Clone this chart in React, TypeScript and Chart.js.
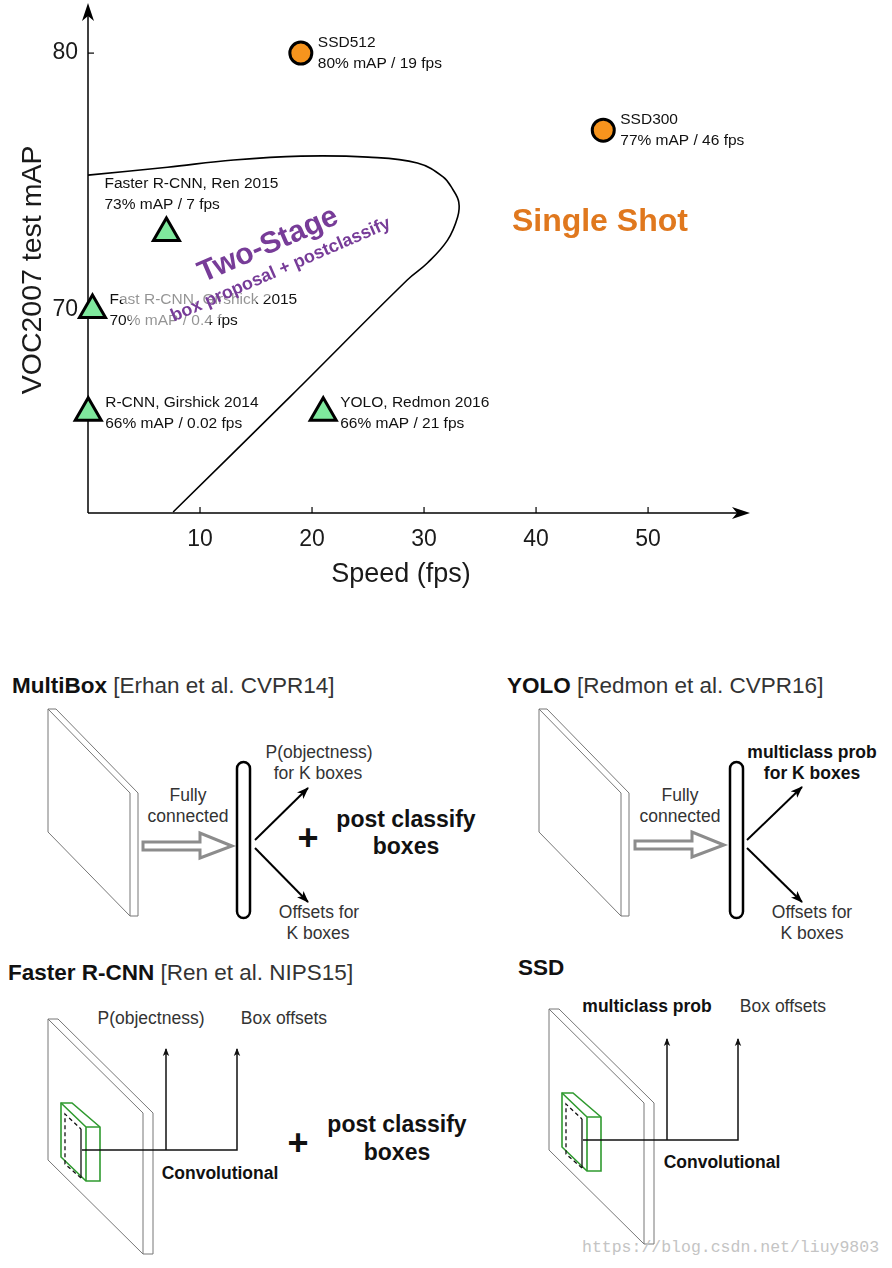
import React, { useEffect, useRef } from 'react';
import { Chart, registerables } from 'chart.js';

Chart.register(...registerables);

const F = '"Liberation Sans", Arial, Helvetica, sans-serif';

// ---- data ----
const ssdNames = ['SSD512', 'SSD300'];
const ssdFps = [19, 46];
const ssdMap = [80, 77];

const otherNames = ['Faster R-CNN, Ren 2015', 'Fast R-CNN, Girshick 2015', 'R-CNN, Girshick 2014', 'YOLO, Redmon 2016'];
const otherFps = [7, 0.4, 0.02, 21];
const otherMap = [73, 70, 66, 66];
const otherLabelSide = ['above', 'right', 'right', 'right'];

// boundary between two-stage and single-shot regions
const boundaryFps = [0, 7.1, 13.0, 19.0, 25.0, 29.4, 31.7, 32.6, 33.1, 33.0, 32.1, 30.3, 28.5, 18.1, 7.6];
const boundaryMap = [75.25, 75.56, 75.84, 75.99, 75.95, 75.72, 75.18, 74.67, 74.2, 73.62, 72.72, 71.83, 71.17, 66.65, 62.14];

const xTicks = [10, 20, 30, 40, 50];
const yTicks = [70, 80];

const decorPlugin = {
  id: 'decor',
  beforeDatasetsDraw(chart: any) {
    const { ctx, chartArea: ca, scales } = chart;
    const xs = scales.x;
    const ys = scales.y;
    const ax = xs.getPixelForValue(0);
    const ay = ca.bottom;
    ctx.save();
    ctx.strokeStyle = '#000';
    ctx.fillStyle = '#000';
    ctx.lineWidth = 1.5;
    ctx.beginPath();
    ctx.moveTo(ax, ay);
    ctx.lineTo(ca.right - 10, ay);
    ctx.stroke();
    ctx.beginPath();
    ctx.moveTo(ca.right, ay);
    ctx.lineTo(ca.right - 18, ay - 6);
    ctx.lineTo(ca.right - 13, ay);
    ctx.lineTo(ca.right - 18, ay + 6);
    ctx.closePath();
    ctx.fill();
    ctx.beginPath();
    ctx.moveTo(ax, ay);
    ctx.lineTo(ax, ca.top + 10);
    ctx.stroke();
    ctx.beginPath();
    ctx.moveTo(ax, ca.top);
    ctx.lineTo(ax - 6, ca.top + 18);
    ctx.lineTo(ax, ca.top + 13);
    ctx.lineTo(ax + 6, ca.top + 18);
    ctx.closePath();
    ctx.fill();
    ctx.lineWidth = 1.2;
    xTicks.forEach((v) => {
      const px = xs.getPixelForValue(v);
      ctx.beginPath();
      ctx.moveTo(px, ay);
      ctx.lineTo(px, ay - 6);
      ctx.stroke();
    });
    yTicks.forEach((v) => {
      const py = ys.getPixelForValue(v);
      ctx.beginPath();
      ctx.moveTo(ax, py);
      ctx.lineTo(ax + 6, py);
      ctx.stroke();
    });
    // axis titles
    ctx.fillStyle = '#1a1a1a';
    ctx.font = `27px ${F}`;
    ctx.textAlign = 'center';
    ctx.textBaseline = 'middle';
    ctx.fillText('Speed (fps)', ax + 313, ay + 62);
    ctx.save();
    ctx.translate(ax - 55, ys.getPixelForValue(71.56));
    ctx.rotate(-Math.PI / 2);
    ctx.font = `28.5px ${F}`;
    ctx.fillText('VOC2007 test mAP', 0, 0);
    ctx.restore();
    ctx.restore();
  },
  afterDatasetsDraw(chart: any) {
    const { ctx, scales } = chart;
    const xs = scales.x;
    const ys = scales.y;
    ctx.save();
    ctx.font = `15.5px ${F}`;
    ctx.fillStyle = '#111';
    ctx.textAlign = 'left';
    ctx.textBaseline = 'middle';
    const label = (name: string, fps: number, map: number, side: string) => {
      const px = xs.getPixelForValue(fps);
      const py = ys.getPixelForValue(map);
      const l2 = `${map}% mAP / ${fps} fps`;
      if (side === 'above') {
        ctx.fillText(name, px - 62, py - 49);
        ctx.fillText(l2, px - 62, py - 28);
      } else {
        ctx.fillText(name, px + 17, py - 10);
        ctx.fillText(l2, px + 17, py + 11);
      }
    };
    ssdNames.forEach((n, i) => label(n, ssdFps[i], ssdMap[i], 'right'));
    otherNames.forEach((n, i) => label(n, otherFps[i], otherMap[i], otherLabelSide[i]));

    const ang = (-23.5 * Math.PI) / 180;
    // translucent backdrop of the two-stage caption
    ctx.save();
    ctx.translate(xs.getPixelForValue(17.2), ys.getPixelForValue(71.56));
    ctx.rotate(ang);
    ctx.fillStyle = 'rgba(255,255,255,0.55)';
    ctx.fillRect(-158, -45, 288, 65);
    ctx.restore();

    ctx.fillStyle = '#773C98';
    ctx.textAlign = 'center';
    ctx.save();
    ctx.translate(xs.getPixelForValue(16.1), ys.getPixelForValue(72.53));
    ctx.rotate(ang);
    ctx.font = `bold 30px ${F}`;
    ctx.fillText('Two-Stage', 0, 0);
    ctx.restore();
    ctx.save();
    ctx.translate(xs.getPixelForValue(17.2), ys.getPixelForValue(71.56));
    ctx.rotate(ang);
    ctx.font = `bold 18px ${F}`;
    ctx.fillText('box proposal + postclassify', 0, 0);
    ctx.restore();

    ctx.fillStyle = '#E0781E';
    ctx.font = `bold 32px ${F}`;
    ctx.fillText('Single Shot', xs.getPixelForValue(45.7), ys.getPixelForValue(73.42));
    ctx.restore();
  },
};

const noPad = (s: any) => {
  s.paddingTop = 0;
  s.paddingBottom = 0;
  s.paddingLeft = 0;
  s.paddingRight = 0;
};

function TopChart() {
  const ref = useRef<HTMLCanvasElement>(null);
  useEffect(() => {
    if (!ref.current) return;
    Chart.defaults.font.family = F;
    const chart = new Chart(ref.current, {
      type: 'scatter',
      data: {
        datasets: [
          {
            label: 'SSD',
            data: ssdFps.map((v, i) => ({ x: v, y: ssdMap[i] })),
            pointStyle: 'circle',
            pointRadius: 11,
            pointBackgroundColor: '#F7941D',
            pointBorderColor: '#000',
            pointBorderWidth: 3,
            clip: false,
            order: 1,
          } as any,
          {
            label: 'Other detectors',
            data: otherFps.map((v, i) => ({ x: v, y: otherMap[i] })),
            pointStyle: 'triangle',
            pointRadius: 15,
            pointBackgroundColor: '#7FE89D',
            pointBorderColor: '#000',
            pointBorderWidth: 3,
            clip: false,
            order: 2,
          } as any,
          {
            label: 'Boundary',
            data: boundaryFps.map((v, i) => ({ x: v, y: boundaryMap[i] })),
            showLine: true,
            tension: 0.4,
            borderColor: '#000',
            borderWidth: 1.6,
            pointRadius: 0,
            fill: false,
            clip: false,
            order: 3,
          } as any,
        ],
      },
      options: {
        responsive: false,
        devicePixelRatio: 1,
        animation: false,
        layout: { autoPadding: false, padding: { left: 0, right: 142, top: 3, bottom: 0 } },
        plugins: { legend: { display: false }, tooltip: { enabled: false }, title: { display: false } },
        scales: {
          x: {
            type: 'linear',
            min: 0,
            max: 59.1,
            grid: { display: false, drawTicks: false },
            border: { display: false },
            afterFit: (s: any) => {
              s.height = 87;
              noPad(s);
            },
            afterBuildTicks: (s: any) => {
              s.ticks = xTicks.map((v) => ({ value: v }));
            },
            ticks: {
              font: { size: 23, family: F },
              color: '#1a1a1a',
              padding: 13,
              maxRotation: 0,
              autoSkip: false,
            },
          },
          y: {
            type: 'linear',
            min: 62.1,
            max: 81.95,
            grid: { display: false, drawTicks: false },
            border: { display: false },
            afterFit: (s: any) => {
              s.width = 88;
              noPad(s);
            },
            afterBuildTicks: (s: any) => {
              s.ticks = yTicks.map((v) => ({ value: v }));
            },
            ticks: {
              font: { size: 23, family: F },
              color: '#1a1a1a',
              padding: 10,
            },
          },
        },
      } as any,
      plugins: [decorPlugin],
    });
    return () => chart.destroy();
  }, []);
  return <canvas ref={ref} width={892} height={600} style={{ display: 'block', width: 892, height: 600 }} />;
}

function slab(x: number, y: number, dx: number, dy: number, h: number, d: number) {
  return (
    <g fill="none" stroke="#777" strokeWidth={1}>
      <path
        d={`M${x},${y} L${x + d},${y} L${x + dx + d},${y + dy} L${x + dx + d},${y + dy + h} L${x + dx},${y + dy + h} L${x},${y + h} Z`}
        fill="#fff"
      />
      <path d={`M${x},${y} L${x + dx},${y + dy} L${x + dx},${y + dy + h}`} />
    </g>
  );
}

function hollowArrow(x0: number, yc: number) {
  return (
    <polygon
      points={`${x0},${yc - 4} ${x0 + 57},${yc - 4} ${x0 + 57},${yc - 13} ${x0 + 89},${yc} ${x0 + 57},${yc + 12} ${x0 + 57},${yc + 4} ${x0},${yc + 4}`}
      fill="#fff"
      stroke="#8c8c8c"
      strokeWidth={3}
      strokeLinejoin="miter"
    />
  );
}

function greenBox(gx: number, gy: number) {
  return (
    <g fill="none">
      <path
        d={`M${gx},${gy} L${gx + 11},${gy} L${gx + 39},${gy + 24} L${gx + 39},${gy + 78} L${gx + 25},${gy + 78} L${gx},${gy + 54} Z`}
        fill="#fff"
        stroke="#2f9a2f"
        strokeWidth={1.6}
      />
      <path d={`M${gx},${gy} L${gx + 25},${gy + 24} L${gx + 25},${gy + 78} M${gx + 25},${gy + 24} L${gx + 39},${gy + 24}`} stroke="#2f9a2f" strokeWidth={1.6} />
      <path d={`M${gx + 20},${gy + 75} L${gx + 4},${gy + 61} L${gx + 4},${gy + 11} L${gx + 20},${gy + 26}`} stroke="#111" strokeWidth={1.3} strokeDasharray="4 3" />
      <path d={`M${gx + 20},${gy + 26} L${gx + 20},${gy + 75}`} stroke="#111" strokeWidth={1.3} />
    </g>
  );
}

function convArrows(lx: number, ly: number) {
  return (
    <g stroke="#111" strokeWidth={1.5} fill="none">
      <path d={`M${lx},${ly} L${lx + 155},${ly} L${lx + 155},${ly - 101}`} markerEnd="url(#openHead)" />
      <path d={`M${lx + 84},${ly} L${lx + 84},${ly - 101}`} markerEnd="url(#openHead)" />
    </g>
  );
}

function Diagrams() {
  const txt = '#333';
  const small = 17.5;
  const T = (x: number, y: number, s: string, opts: any = {}) => (
    <text x={x} y={y} textAnchor={opts.anchor || 'middle'} dominantBaseline="central" fontSize={opts.size || small} fontWeight={opts.bold ? 'bold' : 'normal'} fill={opts.color || txt}>
      {s}
    </text>
  );
  return (
    <svg width={892} height={668} viewBox="0 600 892 668" style={{ display: 'block' }} fontFamily={F}>
      <defs>
        <marker id="fillHead" viewBox="0 0 12 10" refX="11" refY="5" markerWidth="12" markerHeight="10" markerUnits="userSpaceOnUse" orient="auto">
          <path d="M0,0.5 L12,5 L0,9.5 L3,5 Z" fill="#000" />
        </marker>
        <marker id="openHead" viewBox="0 0 8 8" refX="7" refY="4" markerWidth="8" markerHeight="8" markerUnits="userSpaceOnUse" orient="auto">
          <path d="M0,0.8 L8,4 L0,7.2 L2,4 Z" fill="#111" />
        </marker>
      </defs>

      {/* MultiBox */}
      <text x={12} y={685} dominantBaseline="central" fontSize={22.5} fill="#111">
        <tspan fontWeight="bold">MultiBox</tspan>
        <tspan fill="#333"> [Erhan et al. CVPR14]</tspan>
      </text>
      {slab(48, 709, 82, 84, 123, 8)}
      {hollowArrow(143, 846)}
      {T(188, 795, 'Fully')}
      {T(188, 816, 'connected')}
      <rect x={237} y={762} width={13} height={156} rx={6.5} fill="#fff" stroke="#000" strokeWidth={2.5} />
      <line x1={255} y1={840} x2={308} y2={788} stroke="#000" strokeWidth={2} markerEnd="url(#fillHead)" />
      <line x1={255} y1={848} x2={308} y2={902} stroke="#000" strokeWidth={2} markerEnd="url(#fillHead)" />
      {T(319, 752, 'P(objectness)')}
      {T(318, 773, 'for K boxes')}
      {T(319, 912, 'Offsets for')}
      {T(318, 933, 'K boxes')}
      {T(308, 837, '+', { size: 36, bold: true, color: '#111' })}
      {T(406, 819, 'post classify', { size: 23, bold: true, color: '#111' })}
      {T(406, 846, 'boxes', { size: 23, bold: true, color: '#111' })}

      {/* YOLO */}
      <text x={507} y={685} dominantBaseline="central" fontSize={22.5} fill="#111">
        <tspan fontWeight="bold">YOLO</tspan>
        <tspan fill="#333"> [Redmon et al. CVPR16]</tspan>
      </text>
      {slab(539, 709, 82, 84, 123, 8)}
      {hollowArrow(635, 845)}
      {T(680, 795, 'Fully')}
      {T(680, 816, 'connected')}
      <rect x={730} y={762} width={13} height={156} rx={6.5} fill="#fff" stroke="#000" strokeWidth={2.5} />
      <line x1={747} y1={840} x2={802} y2={787} stroke="#000" strokeWidth={2} markerEnd="url(#fillHead)" />
      <line x1={747} y1={848} x2={802} y2={902} stroke="#000" strokeWidth={2} markerEnd="url(#fillHead)" />
      {T(812, 752, 'multiclass prob', { bold: true, color: '#111' })}
      {T(812, 773, 'for K boxes', { bold: true, color: '#111' })}
      {T(812, 912, 'Offsets for')}
      {T(812, 933, 'K boxes')}

      {/* Faster R-CNN */}
      <text x={8} y={972} dominantBaseline="central" fontSize={22.5} fill="#111">
        <tspan fontWeight="bold">Faster R-CNN</tspan>
        <tspan fill="#333"> [Ren et al. NIPS15]</tspan>
      </text>
      {slab(48, 1019, 95, 94, 141, 10)}
      {greenBox(61, 1103)}
      {convArrows(82, 1150)}
      {T(151, 1018, 'P(objectness)')}
      {T(284, 1018, 'Box offsets')}
      {T(220, 1173, 'Convolutional', { bold: true, color: '#111' })}
      {T(298, 1142, '+', { size: 36, bold: true, color: '#111' })}
      {T(397, 1124, 'post classify', { size: 23, bold: true, color: '#111' })}
      {T(397, 1152, 'boxes', { size: 23, bold: true, color: '#111' })}

      {/* SSD */}
      <text x={518} y={967} dominantBaseline="central" fontSize={22.5} fontWeight="bold" fill="#111">
        SSD
      </text>
      {slab(549, 1009, 95, 94, 141, 10)}
      {greenBox(562, 1093)}
      {convArrows(583, 1140)}
      {T(647, 1006, 'multiclass prob', { bold: true, color: '#111' })}
      {T(783, 1006, 'Box offsets')}
      {T(722, 1162, 'Convolutional', { bold: true, color: '#111' })}

      <text x={582} y={1247} dominantBaseline="central" fontSize={16.5} fill="#c4c4c4" fontFamily='"Liberation Mono", "DejaVu Sans Mono", monospace'>
        https://blog.csdn.net/liuy9803
      </text>
    </svg>
  );
}

export default function App() {
  return (
    <div style={{ position: 'absolute', left: 0, top: 0, width: 892, height: 1268, background: '#fff', overflow: 'hidden' }}>
      <TopChart />
      <Diagrams />
    </div>
  );
}
